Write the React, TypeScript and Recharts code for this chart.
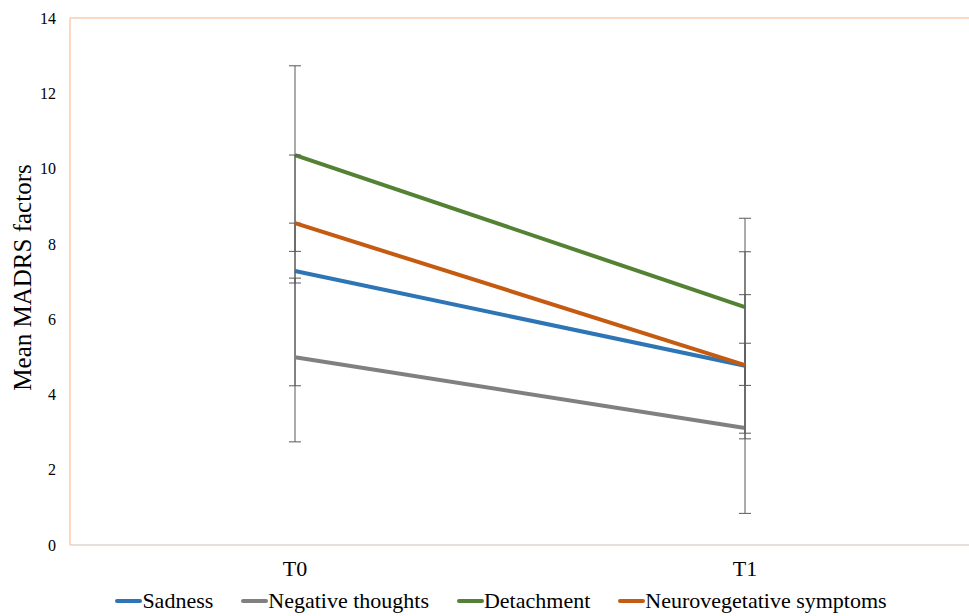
import React from 'react';
import { LineChart, Line, XAxis, YAxis, ErrorBar, ReferenceLine, Legend } from 'recharts';

const categories = ['T0', 'T1'];
const sadness = [7.28, 4.76];
const negativeThoughts = [4.99, 3.11];
const detachment = [10.36, 6.32];
const neurovegetative = [8.55, 4.78];

// [minus, plus] error per time point
const sadnessErr = [[3.05, 1.27], [1.94, 1.89]];
const negativeErr = [[2.25, 2.1], [2.27, 2.25]];
const detachmentErr = [[2.56, 2.37], [2.08, 2.36]];
const neuroErr = [[1.59, 1.81], [1.81, 3.01]];

const yTicks = [0, 2, 4, 6, 8, 10, 12, 14];

const series = [
  { key: 'sadness', name: 'Sadness', color: '#2E75B6' },
  { key: 'negative', name: 'Negative thoughts', color: '#808080' },
  { key: 'detachment', name: 'Detachment', color: '#548235' },
  { key: 'neuro', name: 'Neurovegetative symptoms', color: '#C55A11' },
];

const data = categories.map((t, i) => ({
  time: t,
  sadness: sadness[i],
  negative: negativeThoughts[i],
  detachment: detachment[i],
  neuro: neurovegetative[i],
  sadnessErr: sadnessErr[i],
  negativeErr: negativeErr[i],
  detachmentErr: detachmentErr[i],
  neuroErr: neuroErr[i],
}));

const FONT = '"Liberation Serif", "Times New Roman", serif';

function LegendContent() {
  return (
    <div style={{ height: 31, paddingLeft: 33, display: 'flex', justifyContent: 'center', alignItems: 'center', gap: 28, fontFamily: FONT, fontSize: 22, color: '#000' }}>
      {series.map((s) => (
        <div key={`lg-${s.key}`} style={{ display: 'flex', alignItems: 'center' }}>
          <div style={{ width: 27, height: 4, background: s.color, borderRadius: 2 }} />
          <span>{s.name}</span>
        </div>
      ))}
    </div>
  );
}

function YLabel({ viewBox }: { viewBox?: { x: number; y: number; width: number; height: number } }) {
  if (!viewBox) return null;
  const x = viewBox.x + 22;
  const y = viewBox.y + viewBox.height / 2 - 4;
  return (
    <text x={x} y={y} transform={`rotate(-90, ${x}, ${y})`} textAnchor="middle" dominantBaseline="central" fontFamily={FONT} fontSize={25} fill="#000">
      Mean MADRS factors
    </text>
  );
}

export default function App() {
  return (
    <div style={{ position: 'absolute', left: 0, top: 0, fontFamily: FONT }}>
      <LineChart width={969} height={616} data={data} margin={{ top: 18, right: 0, left: 0, bottom: 0 }}>
        <XAxis
          dataKey="time"
          height={40}
          padding={{ left: 225, right: 224 }}
          axisLine={{ stroke: '#DCD6D0', strokeWidth: 1.5 }}
          tickLine={false}
          tickSize={6}
          tickMargin={9}
          tick={{ fontSize: 22, fill: '#000', fontFamily: FONT }}
        />
        <YAxis
          width={70}
          domain={[0, 14]}
          ticks={yTicks}
          axisLine={{ stroke: '#F8CBAD', strokeWidth: 1.5 }}
          tickLine={false}
          tickSize={6}
          tickMargin={8}
          tick={{ fontSize: 16, fill: '#000', fontFamily: FONT }}
          label={<YLabel />}
        />
        <ReferenceLine y={14} stroke="#F8CBAD" strokeWidth={1.5} />
        <Legend verticalAlign="bottom" content={<LegendContent />} />
        {series.map((s) => (
          <Line
            key={s.key}
            type="linear"
            dataKey={s.key}
            name={s.name}
            stroke={s.color}
            strokeWidth={4}
            dot={false}
            activeDot={false}
            isAnimationActive={false}
          >
            <ErrorBar dataKey={`${s.key}Err`} direction="y" width={6} stroke="#595959" strokeWidth={1} />
          </Line>
        ))}
      </LineChart>
    </div>
  );
}
